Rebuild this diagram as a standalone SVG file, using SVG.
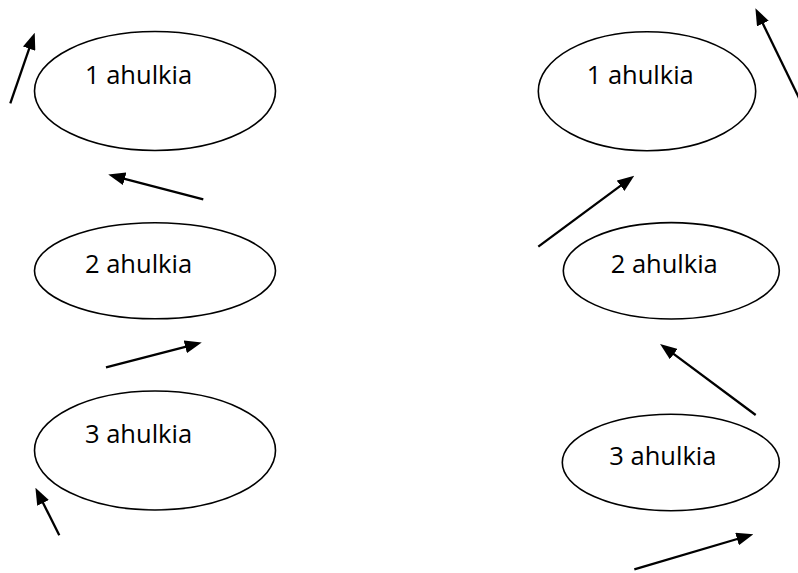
<svg xmlns="http://www.w3.org/2000/svg" width="798" height="573" viewBox="0 0 798 573">
  <defs>
    <style>
      .node ellipse { fill: #ffffff; stroke: #000000; stroke-width: 1.6; }
      .node text { font-family: "Open Sans", "Noto Sans", "Liberation Sans", sans-serif; font-size: 25.5px; fill: #000000; }
      .arrow { stroke: #000000; stroke-width: 2.3; fill: none; marker-end: url(#head); }
    </style>
    <marker id="head" viewBox="0 0 17 13" refX="9" refY="6.5" markerWidth="17" markerHeight="13" markerUnits="userSpaceOnUse" orient="auto">
      <path d="M0,0 L17,6.5 L0,13 z" fill="#000000"/>
    </marker>
  </defs>
  <rect width="798" height="573" fill="#ffffff"/>

  <!-- left column -->
  <g id="left-1" class="node">
    <ellipse cx="155" cy="91" rx="120.5" ry="59.5"/>
    <text x="85" y="84">1 ahulkia</text>
  </g>
  <g id="left-2" class="node">
    <ellipse cx="155" cy="270.7" rx="120.5" ry="48"/>
    <text x="85" y="272.7">2 ahulkia</text>
  </g>
  <g id="left-3" class="node">
    <ellipse cx="155" cy="450.5" rx="120.5" ry="59.5"/>
    <text x="85" y="442.7">3 ahulkia</text>
  </g>

  <!-- right column -->
  <g id="right-1" class="node">
    <ellipse cx="647" cy="91.2" rx="108.7" ry="59.5"/>
    <text x="586.7" y="84.3">1 ahulkia</text>
  </g>
  <g id="right-2" class="node">
    <ellipse cx="671.3" cy="270.8" rx="108" ry="48.2"/>
    <text x="610.7" y="273.3">2 ahulkia</text>
  </g>
  <g id="right-3" class="node">
    <ellipse cx="670.8" cy="462.5" rx="108.5" ry="48.2"/>
    <text x="609.3" y="465">3 ahulkia</text>
  </g>

  <!-- arrows -->
  <g id="connectors">
    <line class="arrow" x1="10.3" y1="103.3" x2="32.1" y2="40.2"/>
    <line class="arrow" x1="203.3" y1="199.3" x2="116.0" y2="176.6"/>
    <line class="arrow" x1="106" y1="367.3" x2="194.0" y2="344.6"/>
    <line class="arrow" x1="59.3" y1="535.3" x2="39.0" y2="494.8"/>
    <line class="arrow" x1="800" y1="100" x2="758.9" y2="15.4"/>
    <line class="arrow" x1="538.3" y1="246.7" x2="627.8" y2="180.4"/>
    <line class="arrow" x1="755.7" y1="415" x2="666.5" y2="348.7"/>
    <line class="arrow" x1="634.3" y1="569.3" x2="745.7" y2="536.5"/>
  </g>
</svg>
